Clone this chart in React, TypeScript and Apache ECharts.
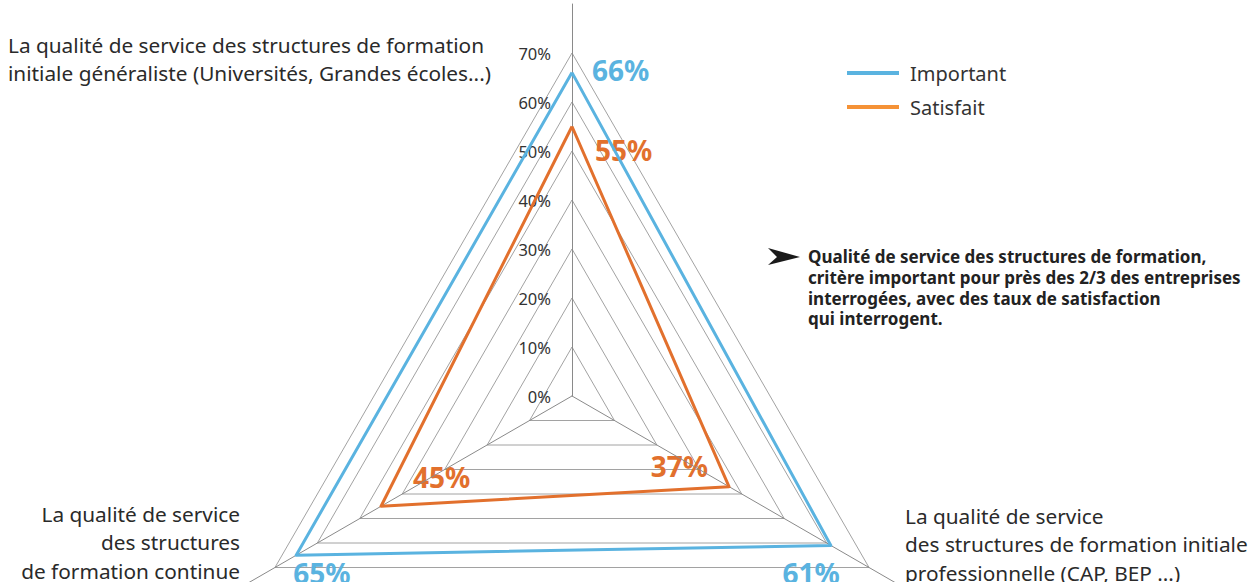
import React, { useEffect, useRef } from 'react';
import * as echarts from 'echarts';

// ---- Data ----
const indicatorNames = [
  'La qualité de service des structures de formation\ninitiale généraliste (Universités, Grandes écoles...)',
  'La qualité de service\ndes structures\nde formation continue',
  'La qualité de service\ndes structures de formation initiale\nprofessionnelle (CAP, BEP ...)',
];
const seriesNames = ['Important', 'Satisfait'];
const importantValues = [66, 65, 61];
const satisfaitValues = [55, 45, 37];
const axisMin = 0;
const axisMax = 80;
const axisInterval = 10;
const lastTickLabel = 70;
const annotationLines = [
  'Qualité de service des structures de formation,',
  'critère important pour près des 2/3 des entreprises',
  'interrogées, avec des taux de satisfaction',
  'qui interrogent.',
];

// ---- Styles ----
const FONT = '"Noto Sans", "Open Sans", sans-serif';
const lineColors = ['#5ab3e0', '#e2702d'];
const legendColors = ['#5ab3e0', '#f59236'];
const labelColors = ['#5ab3e0', '#e2702d'];
const gridColor = '#8a8a8a';
const nameLayout = [
  { x: 8, y: 31, align: 'left' },
  { x: 240, y: 500, align: 'right' },
  { x: 905, y: 502, align: 'left' },
];
// [dx, dy, align] offsets of the value labels from each vertex
const labelOffsets = [
  [[20, -3, 'left'], [-3, 18, 'left'], [9, 28, 'right']],
  [[23, 23, 'left'], [32, -29, 'left'], [-21, -21, 'right']],
];

export default function App() {
  const ref = useRef<HTMLDivElement>(null);
  useEffect(() => {
    if (!ref.current) return;
    const chart = echarts.init(ref.current, null, { renderer: 'svg' });
    const splitColors: string[] = [];
    for (let v = axisMin; v <= axisMax; v += axisInterval) {
      splitColors.push(v <= lastTickLabel ? gridColor : 'rgba(0,0,0,0)');
    }
    const option: any = {
      animation: false,
      textStyle: { fontFamily: FONT },
      legend: {
        orient: 'vertical',
        left: 842,
        top: 58,
        itemWidth: 52,
        itemHeight: 4,
        itemGap: 14,
        icon: 'rect',
        textStyle: { fontSize: 20, color: '#333', fontFamily: FONT, padding: [0, 0, 0, 6] },
        data: seriesNames,
      },
      radar: {
        center: [572, 396],
        radius: 392,
        startAngle: 90,
        shape: 'polygon',
        splitNumber: (axisMax - axisMin) / axisInterval,
        axisName: { show: false },
        indicator: indicatorNames.map((n, i) => ({
          name: n,
          min: axisMin,
          max: axisMax,
          axisLabel:
            i === 0
              ? {
                  show: true,
                  fontSize: 16.5,
                  color: '#333',
                  fontFamily: FONT,
                  margin: 21,
                  formatter: (v: number) => (v > lastTickLabel ? '' : `${v}%`),
                }
              : { show: false },
        })),
        axisLine: { lineStyle: { color: gridColor, width: 1 } },
        splitLine: { lineStyle: { color: splitColors, width: 0.8 } },
        splitArea: { show: false },
        axisTick: { show: false },
      },
      series: [
        {
          type: 'radar',
          symbol: 'none',
          data: [
            {
              name: seriesNames[0],
              value: importantValues,
              lineStyle: { color: lineColors[0], width: 3 },
              itemStyle: { color: legendColors[0] },
            },
            {
              name: seriesNames[1],
              value: satisfaitValues,
              lineStyle: { color: lineColors[1], width: 3 },
              itemStyle: { color: legendColors[1] },
            },
          ],
        },
      ],
    };
    chart.setOption(option);

    const graphics: any[] = [];
    indicatorNames.forEach((n, i) => {
      graphics.push({
        type: 'text',
        id: 'name' + i,
        x: nameLayout[i].x,
        y: nameLayout[i].y,
        style: {
          text: n,
          fontSize: 20.8,
          fontFamily: FONT,
          fill: '#2a2a2a',
          lineHeight: 28.3,
          align: nameLayout[i].align,
          verticalAlign: 'top',
        },
      });
    });
    graphics.push({
      type: 'polygon',
      id: 'arrow',
      shape: { points: [[768, 248], [800, 257], [768, 265], [777, 257]] },
      style: { fill: '#1a1a1a' },
    });
    graphics.push({
      type: 'text',
      id: 'annot',
      x: 808,
      y: 246,
      style: {
        text: annotationLines.join('\n'),
        fontSize: 17,
        fontWeight: 'bold',
        fontFamily: FONT,
        fill: '#222',
        lineHeight: 20.8,
        align: 'left',
        verticalAlign: 'top',
      },
    });

    try {
      const coord = (chart as any).getModel().getComponent('radar', 0).coordinateSystem;
      [importantValues, satisfaitValues].forEach((vals, s) => {
        vals.forEach((v, i) => {
          const p = coord.dataToPoint(v, i);
          const off = labelOffsets[s][i] as any[];
          graphics.push({
            type: 'text',
            id: `lbl${s}_${i}`,
            x: p[0] + off[0],
            y: p[1] + off[1],
            style: {
              text: `${v}%`,
              fontSize: 28,
              fontWeight: 'bold',
              fontFamily: FONT,
              fill: labelColors[s],
              align: off[2],
              verticalAlign: 'middle',
            },
          });
        });
      });
    } catch (e) {
      // ignore
    }
    chart.setOption({ graphic: graphics });
    return () => chart.dispose();
  }, []);
  return (
    <div
      ref={ref}
      style={{ position: 'fixed', left: 0, top: 0, width: 1254, height: 582, background: '#fff' }}
    />
  );
}
